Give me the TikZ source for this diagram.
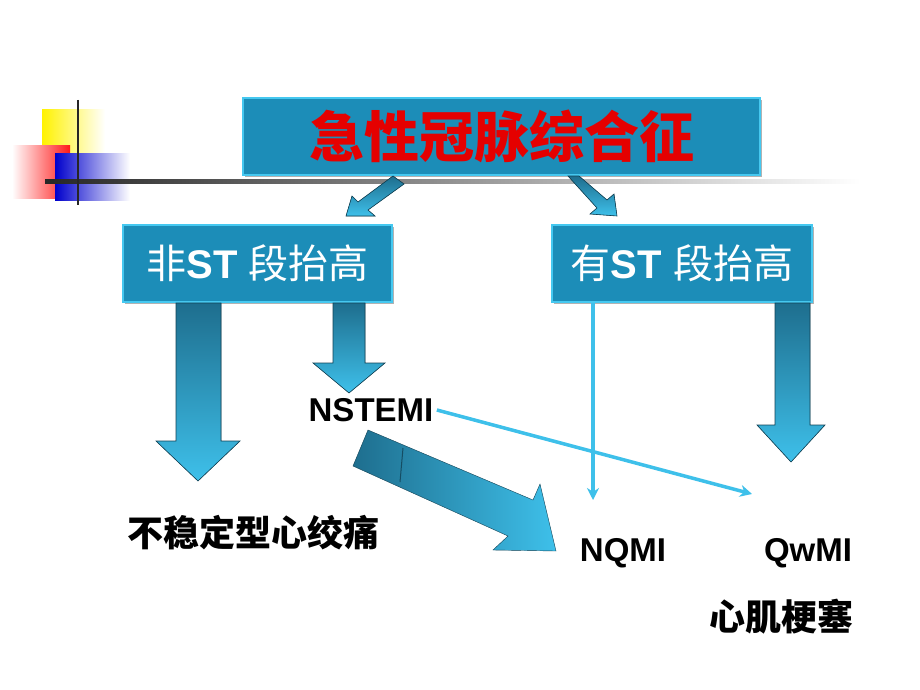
\documentclass[tikz,border=0pt]{standalone}
\usepackage{fontspec}
\setmainfont{Liberation Sans}
\newfontfamily\cjk{Noto Sans CJK SC}
\usetikzlibrary{shadows,arrows.meta}
\definecolor{boxblue}{HTML}{1C8DB8}
\definecolor{boxedge}{HTML}{45C8F0}
\definecolor{arrcyan}{HTML}{3EC0EA}
\definecolor{arrdark}{HTML}{1E6E8E}
\tikzset{
  bluebox/.style={draw=boxedge, line width=2pt, fill=boxblue, inner sep=0pt, drop shadow={shadow xshift=2pt, shadow yshift=-2pt, opacity=0.6}},
  fatarrow/.style={draw=arrdark!60!black, line width=0.6pt, top color=arrdark, bottom color=arrcyan},
  thinarrow/.style={draw=arrcyan, line width=3.5pt, -{Stealth[length=12pt,width=12pt]}},
  lbl/.style={font=\bfseries\fontsize{33}{35}\selectfont, text=black},
}
\begin{document}
\begin{tikzpicture}[x=1pt,y=-1pt]
\useasboundingbox (0,0) rectangle (920,690);
\fill[white] (0,0) rectangle (920,690);
% decoration
\shade[left color=yellow!90!orange, right color=white] (42,110) rectangle (105,163);
\shade[left color=white, right color=red!90] (12,145) rectangle (70,198);
\shade[left color=blue!80!black, right color=white] (55,153) rectangle (130,200);
\shade[left color=black!85, right color=white] (45,179) rectangle (860,183);
\draw[black!85, line width=2.5pt] (78,100) -- (78,205);
% boxes
\node[bluebox, minimum width=517pt, minimum height=77pt] (top) at (501.5,136.5)
  {\cjk\bfseries\fontsize{55}{57}\selectfont\color{red!90!black}急性冠脉综合征};
\node[bluebox, minimum width=269pt, minimum height=77pt] (nst) at (257.5,263.5)
  {\color{white}\fontsize{40}{42}\selectfont{\cjk 非}\textbf{ST} {\cjk 段抬高}};
\node[bluebox, minimum width=260pt, minimum height=77pt] (st) at (682,263.5)
  {\color{white}\fontsize{40}{42}\selectfont{\cjk 有}\textbf{ST} {\cjk 段抬高}};
% arrows from top
\filldraw[fatarrow] (393,176) -- (404,184) -- (368,210) -- (375,216) -- (346,216) -- (352,196) -- (358,202) -- cycle;
\filldraw[fatarrow] (568,176) -- (579,176) -- (607,200) -- (614,194) -- (617,216) -- (590,214) -- (597,208) -- cycle;
% labels
\node[lbl] (nstemi) at (371,410) {NSTEMI};
\node[font=\cjk\bfseries\fontsize{36}{38}\selectfont] (ua) at (253,533) {不稳定型心绞痛};
\node[lbl] (nq) at (623,553) {NQMI};
\node[lbl] (qw) at (808,553) {QwMI};
\node[font=\cjk\bfseries\fontsize{36}{38}\selectfont] (mi) at (781,617) {心肌梗塞};
% big down arrows
\filldraw[fatarrow] (176,303) -- (221,303) -- (221,441) -- (240,441) -- (198,481) -- (156,441) -- (176,441) -- cycle;
\filldraw[fatarrow] (333,303) -- (365,303) -- (365,363) -- (385,363) -- (349,393) -- (313,363) -- (333,363) -- cycle;
\filldraw[fatarrow] (775,303) -- (810,303) -- (810,425) -- (825,425) -- (791,462) -- (757,425) -- (775,425) -- cycle;
% diagonal fat arrow
\shade[left color=arrdark, right color=arrcyan, draw=arrdark!60!black] (368,430) -- (533,500) -- (540,484) -- (556,551) -- (493,550) -- (508,536) -- (353,466) -- cycle;
\draw[arrdark!70!black, line width=1pt] (403,448) -- (400,482);
% thin arrows
\draw[thinarrow] (nstemi.east) -- (752,494);
\draw[thinarrow] (593,303) -- (593,500);
\end{tikzpicture}
\end{document}
